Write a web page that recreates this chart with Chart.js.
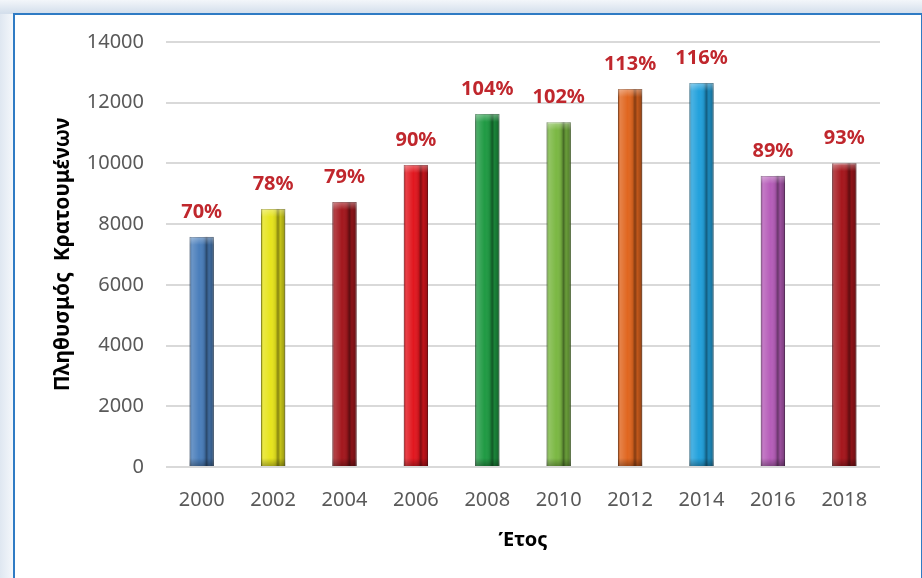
<!DOCTYPE html>
<html>
<head>
<meta charset="utf-8">
<script src="https://cdn.jsdelivr.net/npm/chart.js@4.4.1/dist/chart.umd.min.js"></script>
<style>
  html, body { margin: 0; padding: 0; background: #ffffff; overflow: hidden; }
  body { width: 922px; height: 578px; position: relative;
         background: linear-gradient(90deg, #dfe7f1 0px, #f4f7fb 13px, #ffffff 14px); }
  #topshade { position: absolute; left: 0; top: 0; width: 922px; height: 14px;
              background: linear-gradient(180deg, #f3f6fa 0px, #d4dfec 13px); }
  #frame { position: absolute; left: 13px; top: 13px; width: 906px; height: 580px;
           border-left: 2px solid #2f7bc4; border-top: 2px solid #2f7bc4; border-right: 2px solid #2f7bc4;
           background: #ffffff; overflow: hidden; }
  #wrap { position: absolute; left: 0; top: -7px; width: 906px; height: 571px; }
</style>
</head>
<body>
<div id="topshade"></div>
<div id="frame">
  <div id="wrap"><canvas id="chart1"></canvas></div>
</div>
<script>
/* data */
var years = ['2000', '2002', '2004', '2006', '2008', '2010', '2012', '2014', '2016', '2018'];
var inmates = [7580, 8500, 8730, 9950, 11630, 11360, 12450, 12650, 9590, 10010];
var occupancy = ['70%', '78%', '79%', '90%', '104%', '102%', '113%', '116%', '89%', '93%'];
var barColors = ['#4a7ebb', '#e6e41c', '#a3171d', '#e2171f', '#1f9a43', '#7bb843',
                 '#e0661f', '#22a1dc', '#b65db9', '#a5161c'];

function shade(hex, f) {
  var r = parseInt(hex.substr(1, 2), 16), g = parseInt(hex.substr(3, 2), 16), b = parseInt(hex.substr(5, 2), 16);
  if (f < 0) { r = r * (1 + f); g = g * (1 + f); b = b * (1 + f); }
  else { r = r + (255 - r) * f; g = g + (255 - g) * f; b = b + (255 - b) * f; }
  return 'rgb(' + Math.round(r) + ',' + Math.round(g) + ',' + Math.round(b) + ')';
}

/* bevel shading drawn over each bar element */
var bevel = {
  id: 'bevel',
  afterDatasetsDraw: function(chart) {
    var ctx = chart.ctx;
    var meta = chart.getDatasetMeta(0);
    ctx.save();
    meta.data.forEach(function(bar) {
      var left = bar.x - bar.width / 2;
      var top = bar.y;
      var w = bar.width;
      var h = bar.base - bar.y;
      var g = ctx.createLinearGradient(left, 0, left + w, 0);
      g.addColorStop(0, 'rgba(0,0,0,0.25)');
      g.addColorStop(0.1, 'rgba(255,255,255,0.18)');
      g.addColorStop(0.4, 'rgba(255,255,255,0)');
      g.addColorStop(0.6, 'rgba(0,0,0,0.1)');
      g.addColorStop(0.7, 'rgba(0,0,0,0.42)');
      g.addColorStop(0.8, 'rgba(0,0,0,0.15)');
      g.addColorStop(1, 'rgba(0,0,0,0.35)');
      ctx.fillStyle = g;
      ctx.fillRect(left, top, w, h);
      /* top cap highlight */
      var t = ctx.createLinearGradient(0, top, 0, top + 8);
      t.addColorStop(0, 'rgba(255,255,255,0.35)');
      t.addColorStop(1, 'rgba(255,255,255,0)');
      ctx.fillStyle = t;
      ctx.fillRect(left, top, w, 8);
      /* bottom cap shadow */
      var b = ctx.createLinearGradient(0, bar.base - 8, 0, bar.base);
      b.addColorStop(0, 'rgba(0,0,0,0)');
      b.addColorStop(1, 'rgba(0,0,0,0.3)');
      ctx.fillStyle = b;
      ctx.fillRect(left, bar.base - 8, w, 8);
    });
    ctx.restore();
  }
};

/* percentage labels above bars */
var pctLabels = {
  id: 'pctLabels',
  afterDatasetsDraw: function(chart) {
    var ctx = chart.ctx;
    var meta = chart.getDatasetMeta(0);
    ctx.save();
    ctx.font = 'bold 20px "Noto Sans", sans-serif';
    ctx.fillStyle = '#c0272d';
    ctx.textAlign = 'center';
    ctx.textBaseline = 'middle';
    meta.data.forEach(function(bar, i) {
      ctx.fillText(occupancy[i], bar.x, bar.y - 25);
    });
    ctx.restore();
  }
};

var ctx = document.getElementById('chart1').getContext('2d');

var myChart = new Chart(ctx, {
  type: 'bar',
  data: {
    labels: years,
    datasets: [{
      label: 'Πληθυσμός Κρατουμένων',
      data: inmates,
      backgroundColor: barColors,
      borderColor: barColors.map(function(c) { return shade(c, -0.3); }),
      borderWidth: 1,
      categoryPercentage: 1,
      barPercentage: 0.34
    }]
  },
  options: {
    responsive: true,
    maintainAspectRatio: false,
    animation: false,
    layout: { padding: { top: 14, right: 41, left: 35, bottom: 27 } },
    plugins: {
      legend: { display: false },
      tooltip: { enabled: false }
    },
    scales: {
      x: {
        grid: { display: false },
        border: { display: false },
        ticks: { color: '#595959', font: { family: 'Noto Sans', size: 20 }, padding: 13 },
        title: { display: true, text: 'Έτος', color: '#000000',
                 font: { family: 'Noto Sans', size: 20, weight: 'bold' }, padding: { top: 0, bottom: 0 } },
        afterFit: function(scale) { scale.height = 85; }
      },
      y: {
        min: 0,
        max: 14000,
        ticks: { stepSize: 2000, color: '#595959', font: { family: 'Noto Sans', size: 20 }, padding: 22,
                 callback: function(v) { return String(v); } },
        grid: { color: '#d9d9d9', lineWidth: 2, drawTicks: false },
        border: { display: false },
        title: { display: true, text: 'Πληθυσμός  Κρατουμένων', color: '#000000',
                 font: { family: 'Noto Sans', size: 21, weight: 'bold' }, padding: { top: 0, bottom: 0 } },
        afterFit: function(scale) { scale.width = 116; }
      }
    }
  },
  plugins: [bevel, pctLabels]
});
</script>
</body>
</html>
